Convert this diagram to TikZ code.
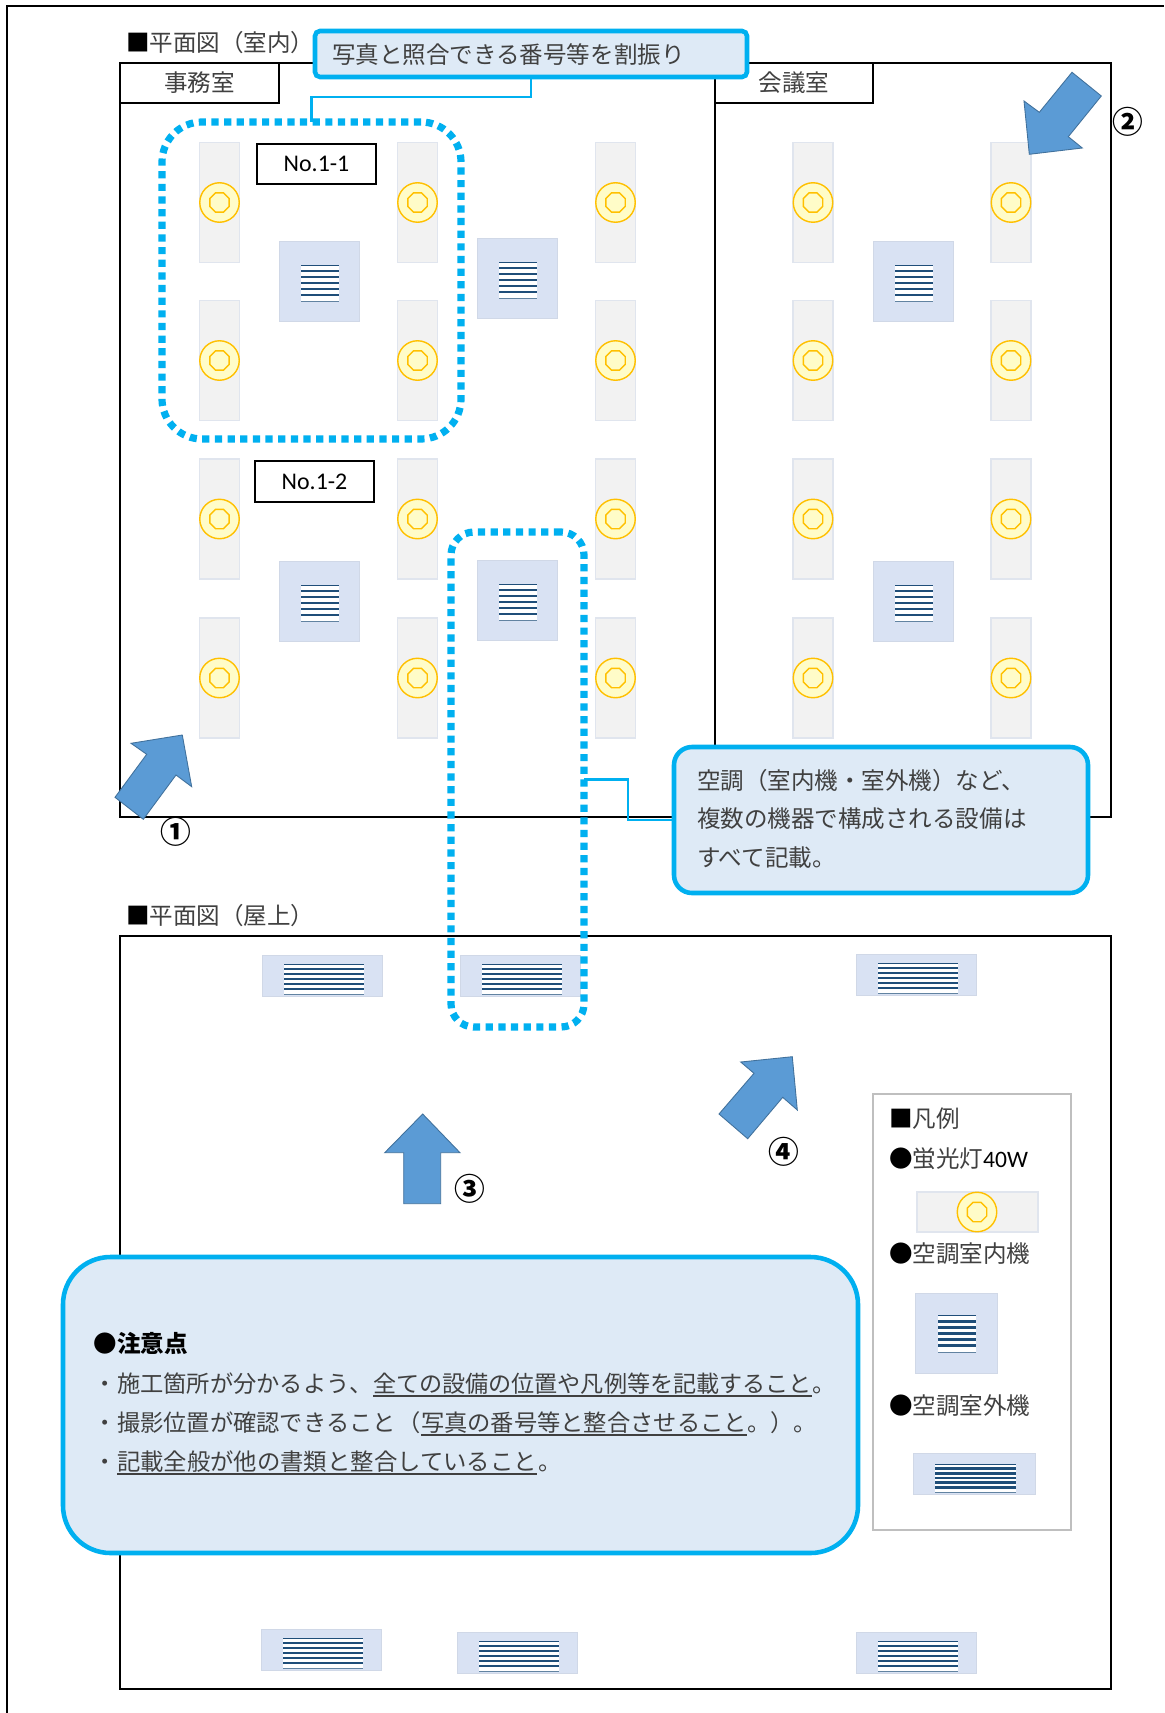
\documentclass[tikz,border=0pt]{standalone}
\usepackage{fontspec}
\usepackage{graphicx}
\usetikzlibrary{shapes.geometric}
\setmainfont{Noto Sans CJK JP}
\newfontfamily\lat{Carlito}
\definecolor{cy}{HTML}{00B0F0}
\definecolor{pale}{HTML}{DEEAF6}
\definecolor{acbg}{HTML}{D9E2F3}
\definecolor{lampbg}{HTML}{F2F2F2}
\definecolor{lampln}{HTML}{E0E5EE}
\definecolor{strip}{HTML}{1F4E79}
\definecolor{tx}{HTML}{404040}
\definecolor{arf}{HTML}{5B9BD5}
\definecolor{arl}{HTML}{41719C}
\definecolor{lampc}{HTML}{FFC000}
\definecolor{lampf}{HTML}{FFFCC8}
\tikzset{
  bx/.style={inner sep=0pt,outer sep=0pt},
  frame/.style={bx,draw=black,line width=1.2pt},
  tabbox/.style={bx,draw=black,line width=1.0pt,fill=white,text=tx,font=\fontsize{13.4}{15}\selectfont},
  nobox/.style={bx,draw=black,line width=1.0pt,fill=white,font=\lat\fontsize{13.6}{15}\selectfont},
  lampr/.style={bx,draw=lampln,line width=0.7pt,fill=lampbg},
  lampo/.style={circle,bx,draw=lampc,line width=0.8pt,fill=lampf},
  lampi/.style={regular polygon,regular polygon sides=8,bx,draw=lampc,line width=0.8pt,fill=lampf,minimum size=0.42cm},
  acbox/.style={bx,draw=acbg!90!gray,line width=0.4pt,fill=acbg},
  grillebg/.style={bx,fill=white},
  dotbox/.style={bx,draw=cy,line width=4.1pt,dash pattern=on 4.1pt off 3.1pt},
  conn/.style={draw=cy,line width=1.6pt},
  callout/.style={bx,draw=cy,fill=pale,line width=2.6pt},
  txt/.style={inner sep=0pt,outer sep=0pt,text=tx,font=\fontsize{13.4}{15}\selectfont},
  num/.style={inner sep=0pt,outer sep=0pt,text=black,font=\bfseries\fontsize{17.5}{19}\selectfont},
  arr/.style={draw=arl,fill=arf,line width=0.5pt,line join=miter},
  ul/.style={draw=tx,line width=0.75pt},
}
% box by corners: style, name, x1,y1,x2,y2, text
\newcommand\mybox[7]{%
  \pgfmathsetmacro\bw{((#5)-(#3))*0.02}\pgfmathsetmacro\bh{((#6)-(#4))*0.02}%
  \node[#1,minimum width=\bw cm,minimum height=\bh cm] (#2) at ({((#3)+(#5))/2},{((#4)+(#6))/2}) {#7};}
\newcommand\T[4]{\node[txt,anchor=base west] (#1) at (#2,#3+8.7) {#4};}
\newcommand\NF[1]{\fontsize{#1}{15}\selectfont}
\newcommand\grille[5]{% name x1 y1 x2 y2 : stripes
  \mybox{grillebg}{#1}{#2}{#3}{#4}{#5}{}%
  \pgfmathsetmacro\gp{((#5)-(#3))/6}%
  \draw[strip,line width=0.35pt] (#2,#3) -- (#4,#3);
  \foreach \k in {1,...,5}{\draw[strip,line width=1.6pt] (#2,{#3+\k*\gp}) -- (#4,{#3+\k*\gp});}
  \draw[strip!70,line width=0.5pt] (#2,#5) -- (#4,#5);}
\newcommand\lampmark[3]{\node[lampo,minimum size=0.79cm] (#1o) at (#2,#3) {};\node[lampi] (#1i) at (#2,#3) {};}
\newcommand\lamp[3]{%
  \mybox{lampr}{#1}{#2-20}{#3}{#2+20}{#3+120}{}%
  \lampmark{#1}{#2}{#3+60}}
\newcommand\indoor[3]{%
  \mybox{acbox}{#1}{#2}{#3}{#2+80.5}{#3+80.5}{}%
  \grille{#1g}{#2+22}{#3+24}{#2+60}{#3+60}}
\newcommand\outdoor[3]{%
  \mybox{acbox}{#1}{#2}{#3}{#2+120}{#3+41}{}%
  \grille{#1g}{#2+22}{#3+9}{#2+102}{#3+39}}
\begin{document}
\begin{tikzpicture}[x=0.02cm,y=-0.02cm]
\useasboundingbox (0,0) rectangle (1164,1713);
\fill[white] (0,0) rectangle (1164,1713);
% page edge
\coordinate (pa) at (7,1713);\coordinate (pb) at (7,6);\coordinate (pc) at (1164,6);
\draw[black,line width=0.9pt] (pa) -- (pb) -- (pc);
% frames
\mybox{frame}{fr1}{120}{63}{1111}{817}{}
\draw[black,line width=1.2pt] (715,63) coordinate (dv1) -- (715,817) coordinate (dv2);
\mybox{frame}{fr2}{120}{936}{1111}{1689}{}
\mybox{tabbox}{tab1}{120}{63}{279}{103}{\raisebox{0.7pt}{事務室}}
\mybox{tabbox}{tab2}{715}{63}{873}{103}{\raisebox{0.7pt}{会議室}}
\T{tl1}{126}{43}{\textcolor{black}{■}平面図（室内）}
\T{tl2}{126}{916}{\textcolor{black}{■}平面図（屋上）}
% lamps
\foreach \c/\x in {a/219.5,b/417.5,c/615.5,d/813,e/1011}{
  \foreach \r/\y in {p/142.5,q/300.5,r/459,s/618}{
    \lamp{l\c\r}{\x}{\y}
  }}
% indoor
\indoor{i1}{279}{241}
\indoor{i2}{477}{238}
\indoor{i3}{279}{561}
\indoor{i4}{477}{560}
\indoor{i5}{873}{241}
\indoor{i6}{873}{561}
% outdoor
\outdoor{o1}{262}{955}
\outdoor{o2}{460}{955}
\outdoor{o3}{856}{954}
\outdoor{o4}{261}{1629}
\outdoor{o5}{457}{1632}
\outdoor{o6}{856}{1632}
% number boxes
\mybox{nobox}{n1}{257}{144}{376}{184}{No.1-1\hspace{2pt}}
\mybox{nobox}{n2}{255}{461}{374}{502}{No.1-2\hspace{1pt}}
% arrows
\draw[arr] (182.3,735) -- (131,743.3) -- (146.7,754.3) -- (115,797.3) -- (143.3,819.3) -- (176,775) -- (191.7,786.7) -- cycle;
\draw[arr] (1029.3,154.3) -- (1024,101) -- (1039.3,112.3) -- (1072,72.3) -- (1101.3,96) -- (1068.3,136.7) -- (1082.3,148) -- cycle;
\draw[arr] (422.7,1114) -- (384.7,1152.7) -- (403.7,1152.7) -- (403.7,1203.7) -- (440.7,1203.7) -- (440.7,1152.7) -- (460,1152.7) -- cycle;
\draw[arr] (792.3,1056.7) -- (740.7,1062) -- (754,1073.3) -- (719,1114) -- (747.7,1138.7) -- (782.7,1097.3) -- (797.3,1110) -- cycle;
\node[num] (c1n) at (175.7,831.7) {①};
\node[num] (c2n) at (1127.7,122.3) {②};
\node[num] (c3n) at (470.3,1189) {③};
\node[num] (c4n) at (784,1151.7) {④};
% legend
\mybox{bx,draw=black!25,line width=1.1pt,fill=white}{lg}{873}{1094}{1071}{1530}{}
\T{lg1}{889}{1119}{\textcolor{black}{■}凡例}
\T{lg2}{889}{1159}{\textcolor{black}{●}蛍光灯{\lat\textcolor{black}{40W}}}
\mybox{lampr}{lgl}{917}{1192}{1038}{1232}{}
\lampmark{lgl}{977}{1212}
\T{lg3}{889}{1254}{\textcolor{black}{●}空調室内機}
\mybox{acbox}{lgi}{915}{1293}{997}{1373}{}
\grille{lgig}{938}{1315}{976}{1352}
\T{lg4}{889}{1406}{\textcolor{black}{●}空調室外機}
\mybox{acbox}{lgo}{913}{1453}{1035}{1494}{}
\grille{lgog}{935}{1464}{1016}{1492}
% dotted groups
\mybox{dotbox,rounded corners=0.8cm}{d1}{162}{122}{461}{439}{}
\mybox{dotbox,rounded corners=0.46cm}{d2}{451}{532}{584}{1027}{}
% callouts
\coordinate (j2) at (628,800);
\mybox{callout,rounded corners=0.1cm}{c1}{315}{31}{747}{77}{}
\mybox{callout,rounded corners=0.36cm}{c2}{674}{747}{1088}{893}{}
\draw[conn] (c1.south) -- ++(0,20) -| (d1.north);
\draw[conn] (d2.east) -| (j2) |- (c2.west);
\T{c1t}{332}{55}{写真と照合できる番号等を割振り}
\T{c2a}{697}{781}{空調（室内機・室外機）など、}
\T{c2b}{697}{819}{複数の機器で構成される設備は}
\T{c2c}{697}{858}{すべて記載。}
% big note
\mybox{callout,rounded corners=0.95cm}{c3}{63}{1257}{858}{1553}{}
\T{nh}{93.5}{1344}{\textcolor{black}{\bfseries ●注意点}}
\T{n2a}{93}{1384}{\NF{13.25}・}
\T{n2b}{117}{1384}{\NF{13.25}施工箇所が分かるよう、}
\T{n2c}{373}{1384}{\NF{13.15}全ての設備の位置や凡例等を記載すること}
\T{n2d}{812}{1384}{\NF{13.25}。}
\T{n3a}{93}{1423}{\NF{13.25}・}
\T{n3b}{117}{1423}{\NF{13.25}撮影位置が確認できること}
\T{n3c}{397.5}{1423}{\NF{13.25}（}
\T{n3d}{421}{1423}{\NF{13.25}写真の番号等と整合させること}
\T{n3e}{747}{1423}{\NF{13.25}。）。}
\T{n4a}{93}{1462}{\NF{13.25}・}
\T{n4b}{117}{1462}{\NF{13.3}記載全般が他の書類と整合していること}
\T{n4c}{538}{1462}{\NF{13.25}。}
\draw[ul] ([yshift=-1.8pt]n2c.base west) -- ([yshift=-1.8pt]n2c.base east);
\draw[ul] ([yshift=-1.8pt]n3d.base west) -- ([yshift=-1.8pt]n3d.base east);
\draw[ul] ([yshift=-1.8pt]n4b.base west) -- ([yshift=-1.8pt]n4b.base east);
\end{tikzpicture}
\end{document}
